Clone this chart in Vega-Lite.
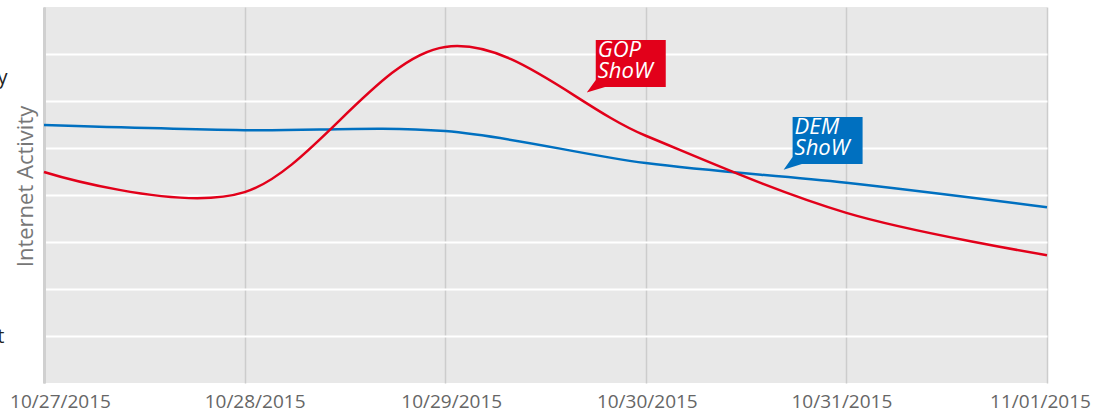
{
  "$schema": "https://vega.github.io/schema/vega-lite/v6.json",
  "width": 1003,
  "height": 376,
  "autosize": {"type": "none"},
  "padding": {"left": 44, "top": 7, "right": 51, "bottom": 32},
  "background": "#ffffff",
  "config": {"view": {"fill": "#e8e8e8", "stroke": null}, "font": "Open Sans"},
  "datasets": {
    "lines": [
      {"series": "DEM", "date": "2015-10-27T00:00:00", "value": 5.49},
      {"series": "DEM", "date": "2015-10-28T00:00:00", "value": 5.38},
      {"series": "DEM", "date": "2015-10-29T00:00:00", "value": 5.36},
      {"series": "DEM", "date": "2015-10-30T00:00:00", "value": 4.68},
      {"series": "DEM", "date": "2015-10-31T00:00:00", "value": 4.26},
      {"series": "DEM", "date": "2015-11-01T00:00:00", "value": 3.74},
      {"series": "GOP", "date": "2015-10-27T00:00:00", "value": 4.49},
      {"series": "GOP", "date": "2015-10-28T00:00:00", "value": 4.06},
      {"series": "GOP", "date": "2015-10-29T00:00:00", "value": 7.15},
      {"series": "GOP", "date": "2015-10-30T00:00:00", "value": 5.26},
      {"series": "GOP", "date": "2015-10-31T00:00:00", "value": 3.62},
      {"series": "GOP", "date": "2015-11-01T00:00:00", "value": 2.72}
    ],
    "notes": [
      {"series": "GOP", "date": "2015-10-29T22:12:00", "value": 6.8, "label": "GOP\nShoW"},
      {"series": "DEM", "date": "2015-10-30T21:45:00", "value": 5.16, "label": "DEM\nShoW"}
    ]
  },
  "encoding": {
    "x": {
      "field": "date",
      "type": "temporal",
      "scale": {"domain": [{"year": 2015, "month": 10, "date": 27}, {"year": 2015, "month": 11, "date": 1}], "nice": false},
      "axis": {
        "title": null,
        "format": "%m/%d/%Y",
        "tickCount": {"interval": "day", "step": 1},
        "grid": true,
        "gridColor": "#cccccc",
        "gridWidth": 1.5,
        "ticks": false,
        "domain": false,
        "labelFontSize": 19,
        "labelColor": "#666666",
        "labelPadding": 9,
        "labelFlush": false,
        "labelOverlap": false,
        "labelBound": false,
        "labelOffset": {
          "condition": [
            {"test": "date(datum.value) === 27", "value": 16},
            {"test": "date(datum.value) === 28", "value": 10},
            {"test": "date(datum.value) === 29", "value": 6},
            {"test": "date(datum.value) === 30", "value": 1},
            {"test": "date(datum.value) === 31", "value": -5}
          ],
          "value": -7
        }
      }
    },
    "y": {
      "field": "value",
      "type": "quantitative",
      "scale": {"domain": [0, 8], "nice": false},
      "axis": {
        "title": "Internet Activity",
        "values": [1, 2, 3, 4, 5, 6, 6.5, 7],
        "labelExpr": "datum.value === 6.5 ? 'High Activity' : datum.value === 1 ? 'Low Interest' : ''",
        "gridColor": {"condition": {"test": "datum.value === 6.5", "value": "transparent"}, "value": "#ffffff"},
        "gridWidth": 2,
        "ticks": false,
        "domain": true,
        "domainColor": "#d0d0d0",
        "domainWidth": 3,
        "labelPadding": {"condition": {"test": "datum.value === 1", "value": 40}, "value": 37},
        "labelFontSize": 20,
        "labelColor": "#222222",
        "titleFontSize": 22,
        "titleColor": "#777777",
        "titleFontWeight": "normal",
        "titleBaseline": "alphabetic",
        "titleX": -12,
        "titleY": 179
      }
    }
  },
  "layer": [
    {
      "data": {"name": "lines"},
      "mark": {"type": "line", "interpolate": "cardinal", "strokeWidth": 2.5},
      "encoding": {
        "color": {"field": "series", "type": "nominal", "scale": {"domain": ["GOP", "DEM"], "range": ["#e2001a", "#0070c0"]}, "legend": null}
      }
    },
    {
      "data": {"name": "notes"},
      "mark": {
        "type": "point",
        "shape": "M-0.972,-0.653L0.972,-0.653L0.972,0.653L-0.714,0.653L-1.222,0.811L-0.972,0.458Z",
        "filled": true,
        "opacity": 1,
        "size": 5184,
        "strokeWidth": 0
      },
      "encoding": {
        "color": {"field": "series", "type": "nominal", "scale": {"domain": ["GOP", "DEM"], "range": ["#e2001a", "#0070c0"]}, "legend": null}
      }
    },
    {
      "data": {"name": "notes"},
      "mark": {
        "type": "text",
        "align": "left",
        "dx": -33,
        "dy": -6,
        "baseline": "alphabetic",
        "fontStyle": "italic",
        "fontSize": 22,
        "lineHeight": 21,
        "lineBreak": "\n",
        "fill": "#ffffff"
      },
      "encoding": {"text": {"field": "label"}}
    }
  ]
}
